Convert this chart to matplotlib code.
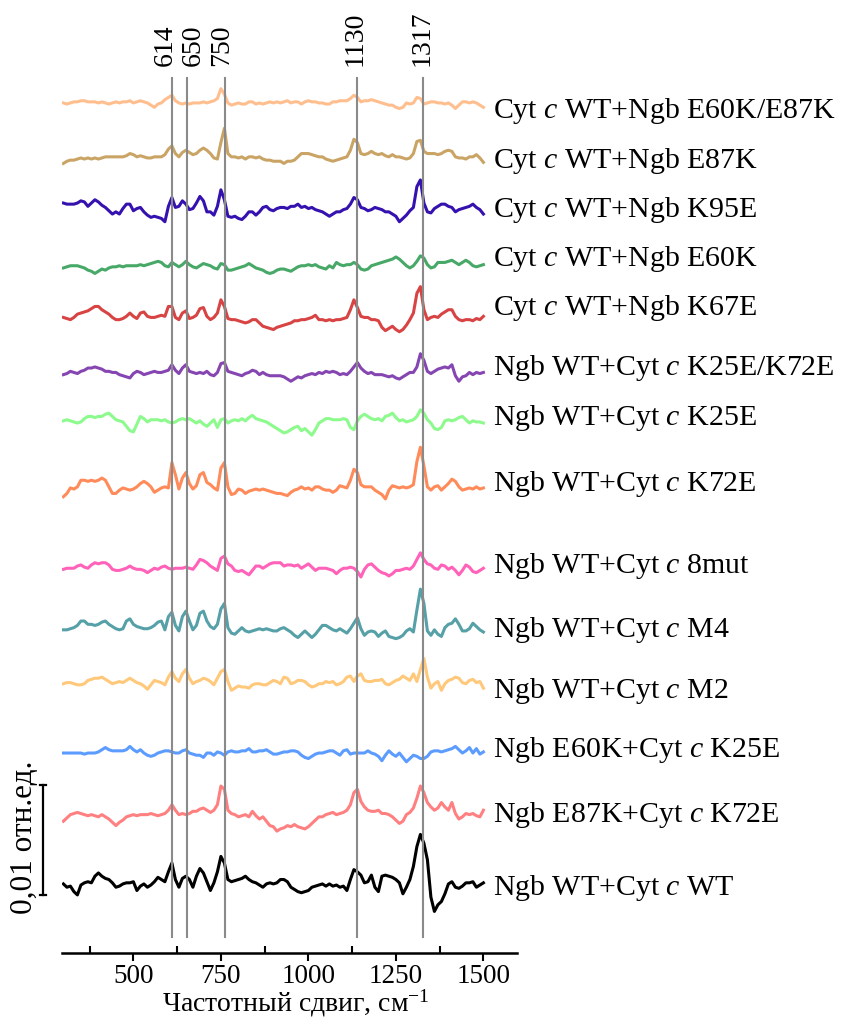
import numpy as np
import matplotlib
matplotlib.use('Agg')
import matplotlib.pyplot as plt

plt.rcParams['font.family'] = 'Liberation Serif'
plt.rcParams['mathtext.fontset'] = 'custom'
plt.rcParams['mathtext.rm'] = 'Liberation Serif'
plt.rcParams['mathtext.it'] = 'Liberation Serif:italic'

# Raman shift grid, cm-1
shift = np.arange(300, 1501, 10)

# difference spectra, in 1e-4 rel. units, top to bottom
cyt_e60k_e87k = [0,-1,0,1,1,2,2,1,1,1,0,1,0,-1,0,1,0,1,1,2,
                 0,1,2,1,0,-2,-4,-1,0,3,5,7,2,0,-1,0,-1,0,0,0,
                 1,0,1,2,4,13,8,0,-2,-1,0,-1,-1,1,1,-1,0,-1,0,1,
                 0,1,0,1,2,0,1,1,-1,1,2,1,1,0,0,-1,-1,1,1,2,
                 2,2,4,7,5,1,2,2,3,2,1,0,-1,-2,-2,-4,-5,-4,0,-1,
                 0,5,4,-1,0,1,1,0,0,-1,0,-2,-5,-2,1,1,0,1,0,-2,
                 -4]
cyt_e87k = [-4,-2,-1,-1,0,1,0,1,0,1,0,1,2,2,2,2,2,2,3,5,
            4,2,3,2,1,1,2,2,2,4,9,12,5,2,6,8,6,4,5,8,
            10,8,5,1,0,15,28,5,2,2,1,2,0,2,2,1,2,0,-1,-1,
            -2,-2,-2,-4,-2,-2,-1,2,5,5,5,4,3,2,2,0,-1,-2,-1,0,
            1,2,8,18,15,5,4,5,7,5,4,5,3,2,4,2,2,1,0,1,
            5,16,17,7,5,5,5,4,5,7,8,7,2,1,1,0,2,2,4,1,
            -3]
cyt_k95e = [6,5,5,5,6,8,7,3,6,9,7,4,2,-1,-4,-2,-4,1,5,5,
            -1,1,2,-2,-5,-7,-6,-7,-8,-11,3,11,2,3,8,5,0,1,6,12,
            8,-2,-2,-5,3,18,9,-6,-7,-6,-8,-9,-6,-2,-2,-5,-2,2,3,0,
            -1,1,2,2,1,3,3,5,2,3,1,2,0,-1,-2,-4,-6,-4,-2,-2,
            0,1,5,11,9,2,1,-1,0,2,1,0,-2,-2,-4,-6,-11,-8,-5,-1,
            2,21,27,6,-2,-3,1,3,5,5,3,2,-2,0,1,2,3,5,2,0,
            -4]
cyt_e60k = [0,1,2,2,2,1,0,-2,-3,-5,-3,-1,-2,0,1,1,2,1,2,2,
            2,2,3,2,3,4,5,6,5,2,1,5,3,1,3,6,3,1,0,2,
            4,3,2,0,-1,4,3,-2,-2,-1,0,1,2,4,2,0,-1,-2,-4,-5,
            -4,-2,-1,-1,-2,-3,-1,1,2,2,3,2,3,1,0,-1,2,0,5,3,
            2,3,3,5,3,-1,-2,-1,2,3,4,5,6,7,8,10,8,5,2,0,
            2,6,11,9,3,0,1,5,5,5,6,7,5,3,5,7,5,2,1,2,
            3]
cyt_k67e = [0,-1,-2,0,3,4,5,6,8,10,10,7,5,3,0,-2,-2,-1,1,4,
            1,-1,4,5,1,0,0,1,2,1,10,10,0,-2,4,6,-1,0,2,8,
            9,1,-2,0,4,16,10,-1,-2,-2,-3,-4,-5,-4,-2,-2,-5,-8,-9,-10,
            -11,-9,-8,-7,-6,-5,-3,-3,-2,-2,-1,0,2,-2,-2,-3,-2,-3,-2,-2,
            -1,0,7,16,9,1,0,0,-2,-2,-3,-9,-12,-10,-8,-11,-13,-11,-7,-2,
            4,22,28,7,-2,0,1,0,3,5,7,7,1,-2,-3,-2,-2,-3,-1,-2,
            1]
ngb_k25e_k72e = [-1,0,2,1,0,2,3,5,5,6,5,4,2,2,1,1,-1,-2,-3,-4,
                 0,2,1,-1,0,1,2,1,1,2,3,8,3,0,5,8,2,1,0,1,
                 0,2,-1,-2,1,9,10,2,1,0,-1,-2,0,1,3,2,-1,1,-1,-2,
                 -2,-2,-2,-3,-5,-7,-5,-3,-4,-2,-1,0,-1,1,0,2,1,2,1,-1,
                 0,-1,2,6,10,5,2,0,1,-1,-1,-1,-2,-3,-2,-4,-5,-3,-1,1,
                 1,6,18,12,2,0,2,4,5,6,5,8,-2,-7,-3,-2,1,-1,1,0,
                 1]
ngb_k25e = [0,1,0,-1,-2,-1,2,4,4,3,4,4,6,7,4,1,0,-1,-5,-9,
            -10,-3,4,2,-1,1,1,1,0,1,-1,-2,-1,1,2,1,2,0,-2,0,
            -3,-5,-2,1,-6,1,2,-2,0,1,0,2,0,3,5,2,1,0,-1,-3,
            -5,-7,-9,-11,-10,-8,-6,-5,-9,-7,-10,-13,-8,-2,0,2,2,1,1,1,
            2,1,-6,-8,0,4,6,4,2,1,2,0,4,5,7,3,0,1,-1,0,
            1,4,10,7,1,-2,-7,-8,-6,0,1,0,1,3,4,1,-2,0,-1,-1,
            -2]
ngb_k72e = [-7,-4,1,0,2,8,8,7,8,7,8,10,8,2,-4,-4,-1,1,0,-1,
            0,2,5,7,5,2,-3,-1,1,2,1,24,13,0,10,15,5,0,3,13,
            15,6,4,1,-1,19,24,2,-5,-4,0,-1,-4,-2,-1,0,-1,0,-1,-2,
            -3,-4,-4,-5,-6,-3,-1,0,2,0,1,-1,2,2,0,-1,-1,-3,-1,3,
            2,1,8,18,15,4,2,2,2,-1,-3,-5,-9,-1,3,2,1,2,1,2,
            4,25,38,21,2,-1,2,3,-1,2,5,9,7,2,-1,0,1,0,2,0,
            1]
ngb_8mut = [-1,0,0,0,2,3,1,0,3,5,4,5,5,3,-1,-2,-2,-1,0,2,
            0,-1,-1,-2,-4,-2,0,-1,1,2,0,-1,0,0,0,1,0,-1,3,8,
            7,5,2,0,-2,9,11,4,2,-2,-3,-2,-4,-6,-2,2,2,0,2,4,
            5,5,5,2,3,3,2,3,0,2,4,1,-2,0,0,0,-1,-2,-5,-2,
            0,0,1,0,-3,-8,-1,3,4,1,-2,-4,-5,-7,-5,-2,-2,-1,0,-1,
            2,8,14,8,4,3,0,-1,3,2,-1,1,-2,-6,-2,3,1,-3,-4,-2,
            0]
ngb_m4 = [0,0,1,2,4,8,8,5,5,4,5,7,8,5,3,1,0,1,8,10,
          5,3,2,1,1,2,4,7,8,0,12,16,4,-1,12,17,8,0,4,15,
          17,8,3,1,5,19,24,2,-3,-4,-1,2,-1,-2,-1,0,1,0,1,0,
          -1,-1,1,2,0,-2,-5,-7,-4,-1,-4,-7,-4,0,4,4,2,0,-1,1,
          -1,-3,1,6,11,1,-5,-2,-1,-2,-6,-3,-1,-6,-7,-8,-7,-5,-1,1,
          -2,18,37,24,-1,-5,0,-4,-6,2,5,6,10,5,-1,-1,1,6,3,0,
          -2]
ngb_m2 = [-1,0,0,-1,-2,-2,-1,2,3,4,4,5,3,1,-1,0,1,0,2,4,
          2,0,-1,-3,-6,-2,2,1,0,-2,5,10,4,1,8,12,4,-1,1,2,
          4,3,1,-2,4,10,12,1,-7,-5,-3,-4,-4,-5,-2,-1,-1,-2,-2,0,
          2,1,-1,5,4,-1,0,2,2,1,-2,-4,-3,-1,-1,1,0,1,-2,-1,
          1,5,6,1,6,8,2,1,1,2,2,3,-1,-2,0,2,3,6,4,2,
          8,1,12,22,5,-5,-1,1,-7,-1,2,3,5,4,0,-1,2,3,0,1,
          -5]
ngb_e60k_k25e = [0,0,0,0,0,0,-1,0,0,0,1,3,5,3,2,2,2,2,3,6,
                 3,1,3,0,-2,-3,-2,0,1,2,2,1,0,0,2,3,0,-1,-2,-2,
                 -4,0,0,-2,1,0,-2,1,2,1,1,2,2,4,1,1,2,2,3,1,
                 -1,-1,0,1,1,2,2,1,-2,-4,-5,-3,-1,0,0,1,2,2,0,-2,
                 2,3,-1,0,0,0,0,2,0,-1,-3,-7,-2,2,-1,-3,0,-4,-8,-5,
                 -2,-3,-5,-5,-3,1,2,2,1,2,3,4,6,3,0,2,5,0,4,-1,
                 1]
ngb_e87k_k72e = [-5,-2,1,2,3,2,1,0,1,0,-1,1,-1,-3,-6,-9,-6,-4,-1,0,
                 1,0,1,1,1,2,1,0,1,2,5,10,5,1,2,1,2,4,4,6,
                 7,5,3,5,10,27,24,5,2,1,-1,0,1,-1,4,0,-3,-1,-5,-9,
                 -10,-14,-12,-11,-9,-10,-8,-10,-11,-12,-10,-7,-4,-1,-1,1,2,3,1,2,
                 3,5,10,21,24,13,8,5,4,4,5,2,2,1,-1,-4,-7,-5,1,3,
                 7,16,27,21,12,8,5,7,12,8,5,12,2,-3,-1,2,1,2,0,-1,
                 5]
ngb_wt = [1,-2,-1,-6,-9,0,2,3,2,8,11,8,6,5,2,-2,-1,1,2,2,
          3,-5,-1,1,-2,0,3,7,5,3,12,20,5,-2,6,8,5,-2,8,15,
          11,3,-5,2,12,26,20,5,3,4,5,6,8,5,3,2,0,-2,1,2,
          1,2,5,5,3,-2,-4,-6,-7,-6,-5,-2,-1,0,1,-1,1,-1,0,-2,
          -1,-5,5,14,12,9,2,3,9,-2,-6,8,9,8,7,5,2,-8,-2,5,
          17,35,46,38,23,-11,-24,-18,-15,-8,1,3,-2,-3,-1,2,2,3,-2,0,
          2]

spectra = [cyt_e60k_e87k, cyt_e87k, cyt_k95e, cyt_e60k, cyt_k67e,
           ngb_k25e_k72e, ngb_k25e, ngb_k72e, ngb_8mut, ngb_m4, ngb_m2,
           ngb_e60k_k25e, ngb_e87k_k72e, ngb_wt]
offsets = [711, 660, 614, 561, 516, 465, 422, 360, 288, 232, 184, 120, 63, 0]
names = ['Cyt $c$ WT+Ngb E60K/E87K', 'Cyt $c$ WT+Ngb E87K', 'Cyt $c$ WT+Ngb K95E',
         'Cyt $c$ WT+Ngb E60K', 'Cyt $c$ WT+Ngb K67E', 'Ngb WT+Cyt $c$ K25E/K72E',
         'Ngb WT+Cyt $c$ K25E', 'Ngb WT+Cyt $c$ K72E', 'Ngb WT+Cyt $c$ 8mut',
         'Ngb WT+Cyt $c$ M4', 'Ngb WT+Cyt $c$ M2', 'Ngb E60K+Cyt $c$ K25E',
         'Ngb E87K+Cyt $c$ K72E', 'Ngb WT+Cyt $c$ WT']
colors = ['#ffbe8e', '#c9a465', '#3512b0', '#47a867', '#d84444', '#8646b2',
          '#8cfa8c', '#ff8a5a', '#ff62b8', '#56a0a8', '#ffc87a', '#5c9cff',
          '#ff8080', '#000000']
label_base = [118, 168, 217, 266, 315, 375, 425, 491, 573, 637, 698, 757, 822, 895]

# marked bands: line positions and their captions
band_pos = [610, 653, 762, 1140, 1327]
band_text = ['614', '650', '750', '1130', '1317']
band_text_x = [590, 671, 753, 1133, 1325]

W, H = 843, 1018
fig = plt.figure(figsize=(W / 100, H / 100), dpi=100)
ax = fig.add_axes([62 / W, (H - 953) / H, (517 - 62) / W, (953 - 10) / H])

for s, off, c in zip(spectra, offsets, colors):
    assert len(s) == len(shift)
    ax.plot(shift, np.array(s) + off, color=c, lw=2.2, zorder=2)

for p in band_pos:
    ax.plot([p, p], [-47, 734], color='#8a8a8a', lw=1.5, zorder=3)
for tx, t in zip(band_text_x, band_text):
    ax.text(tx, 745, t, rotation=90, ha='center', va='bottom', fontsize=20)

# scale bar 0.01 rel. units
ax.plot([242, 242], [-9, 91], color='black', lw=1.6, clip_on=False)
ax.plot([234, 250], [91, 91], color='black', lw=1.6, clip_on=False)
ax.plot([234, 250], [-9, -9], color='black', lw=1.6, clip_on=False)
ax.text(190, 43, '0,01 отн.ед.', rotation=90, ha='center', va='center', fontsize=22.5)

for n, yb in zip(names, label_base):
    fig.text(493 / W, 1 - yb / H, n, ha='left', va='baseline', fontsize=21.5)

ax.set_xlim(296, 1596)
ax.set_ylim(-61.8, 795.5)
ax.set_xticks([500, 750, 1000, 1250, 1500])
ax.set_xticks([375, 625, 875, 1125, 1375], minor=True)
ax.tick_params(axis='x', which='major', direction='out', length=6, width=1.5,
               labelsize=19.5, pad=2)
ax.tick_params(axis='x', which='minor', direction='in', length=5, width=1.5)
ax.set_yticks([])
for side in ['left', 'right', 'top']:
    ax.spines[side].set_visible(False)
ax.spines['bottom'].set_linewidth(1.8)

fig.text(296 / W, 1 - 1011 / H, 'Частотный сдвиг, см$^{-1}$', ha='center',
         va='baseline', fontsize=20)

fig.savefig('out.png', dpi=100)
